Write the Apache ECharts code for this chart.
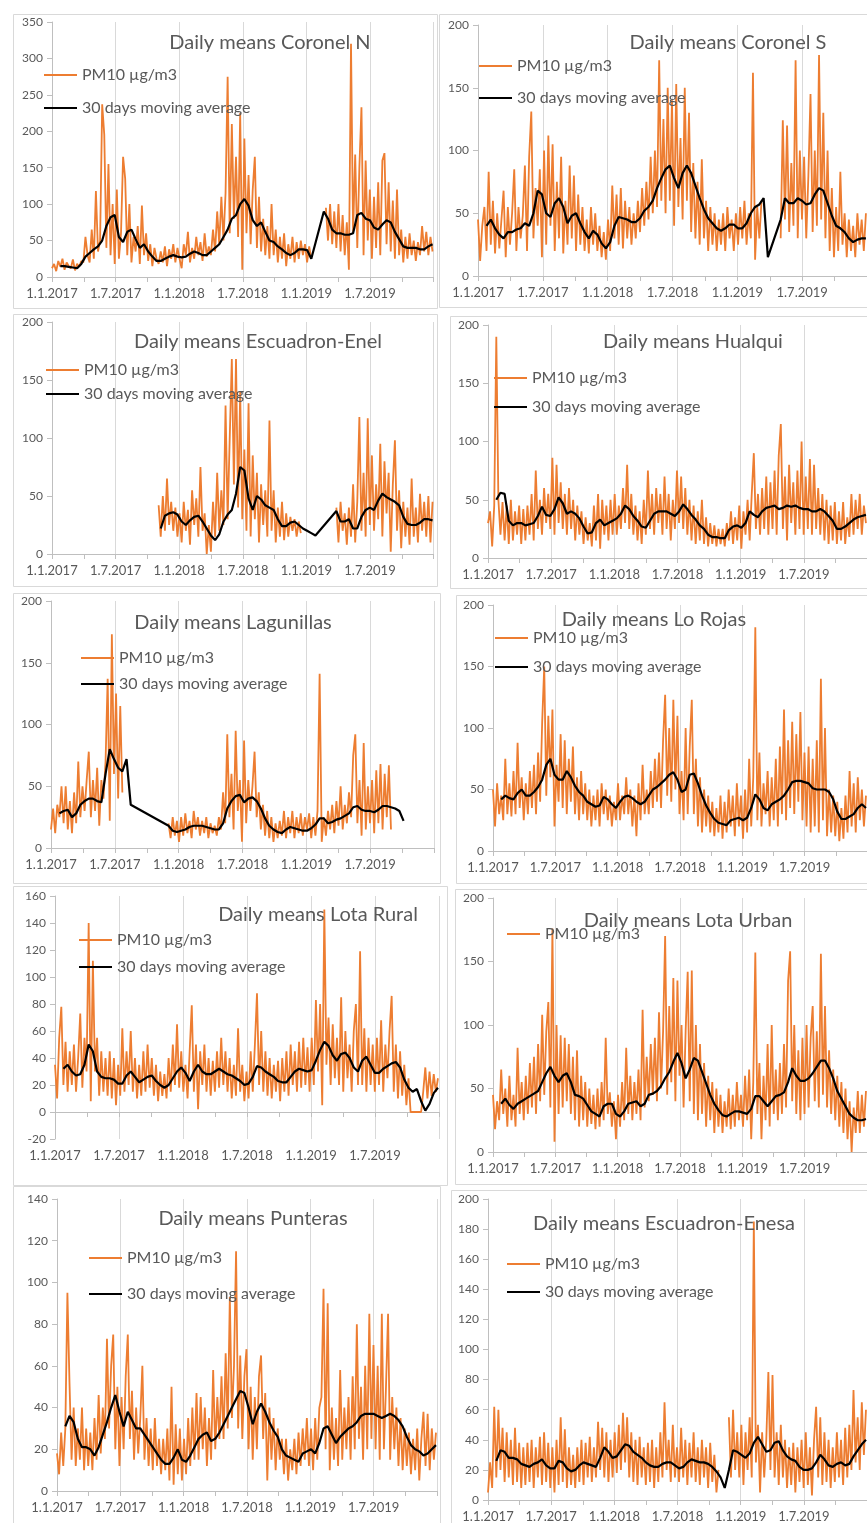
<!DOCTYPE html>
<html><head><meta charset="utf-8">
<script src="https://cdn.jsdelivr.net/npm/echarts@6/dist/echarts.min.js"></script>
<style>html,body{margin:0;padding:0;background:#fff;overflow:hidden}#c{width:867px;height:1523px}</style>
</head><body><div id="c"></div>
<script>
// ---------- tick labels / names ----------
const xTickLabels = ['1.1.2017','1.7.2017','1.1.2018','1.7.2018','1.1.2019','1.7.2019',''];
const seriesNames = ['PM10 µg/m3','30 days moving average'];
const stationTitles = ['Daily means Coronel N','Daily means Coronel S','Daily means Escuadron-Enel','Daily means Hualqui','Daily means Lagunillas','Daily means Lo Rojas','Daily means Lota Rural','Daily means Lota Urban','Daily means Punteras','Daily means Escuadron-Enesa'];
const PM_STEP_DAYS = 6;   // one PM10 reading every 6 days from 1.1.2017
const AVG_STEP_DAYS = 12; // one moving-average reading every 12 days
const yMins  = [0,0,0,0,0,0,-20,0,0,0];
const yMaxs  = [350,200,200,200,200,200,160,200,140,200];
const ySteps = [50,50,50,50,50,50,20,50,20,20];

// ---------- data ----------
const coronelN_pm10 = [
12,18,8,22,14,25,10,20,15,12,24,9,18,14,22,20,55,30,20,65,25,118,35,50,237,195,40,155,30,100,18,
120,25,60,165,135,30,100,20,55,35,70,18,98,30,60,22,45,15,40,25,18,35,20,42,15,38,25,45,20,40,
25,12,45,30,62,20,40,25,55,30,48,22,60,28,42,30,65,35,90,45,110,50,115,275,60,210,80,165,55,225,10,
190,60,140,45,120,165,40,110,35,80,30,70,25,100,30,65,20,55,25,60,15,45,25,55,20,48,25,50,30,45,
20,42,25,null,null,null,null,null,null,95,50,100,45,90,40,100,35,85,30,75,10,320,60,168,40,150,233,30,160,50,120,
25,110,40,130,30,160,170,45,130,35,105,25,120,30,65,20,55,25,60,30,50,22,48,30,70,35,62,30,55,35];
const coronelN_avg = [
null,null,15,15,14,13,12,18,28,33,38,42,50,70,82,85,
55,48,62,65,52,40,45,35,28,22,22,25,28,30,28,
27,28,32,35,33,30,30,35,40,45,55,65,80,85,100,
107,98,78,70,75,62,50,48,42,38,33,30,33,38,38,
37,25,null,null,90,80,65,60,60,58,58,60,85,88,80,78,
68,65,72,78,75,62,52,42,40,40,40,38,38,42,45];

const coronelS_pm10 = [
45,12,40,55,20,83,25,60,18,50,22,45,68,15,55,25,50,85,20,55,30,48,88,20,95,131,30,70,40,85,15,
100,25,112,40,105,20,75,30,95,18,60,25,88,30,80,20,65,25,55,20,45,18,55,25,50,20,40,15,35,13,
45,20,72,30,65,25,70,22,60,30,55,25,50,30,60,35,70,40,75,45,95,50,100,55,172,60,125,50,150,60,140,
40,153,55,110,45,150,60,130,35,90,30,75,25,93,30,60,20,55,25,50,20,45,25,50,20,55,30,45,20,50,
25,55,30,60,25,50,30,162,13,55,30,60,null,null,null,null,null,null,null,null,30,124,45,120,35,90,40,172,30,100,45,
95,30,80,145,35,100,40,176,45,130,30,100,20,70,15,55,20,83,25,50,15,45,20,40,15,50,25,45,20,50];
const coronelS_avg = [
null,null,40,45,38,33,30,35,35,37,38,42,40,50,68,65,
50,47,58,62,55,42,48,50,42,35,30,36,33,26,22,
27,40,47,46,45,43,43,46,52,55,60,70,78,85,88,
78,70,82,88,82,72,62,53,46,42,38,36,38,41,41,
38,38,42,50,55,57,62,15,null,null,45,62,58,58,62,60,
57,58,65,70,68,58,48,40,38,35,30,27,29,30,30];

const escEnel_pm10 = [
null,null,null,null,null,null,null,null,null,null,null,null,null,null,null,null,null,null,null,null,null,null,null,null,null,null,null,null,null,null,null,
null,null,null,null,null,null,null,null,null,null,null,null,null,null,null,null,null,null,null,null,42,15,50,20,65,25,45,20,40,15,
35,10,45,20,38,8,55,25,48,15,75,20,35,0,25,2,45,15,70,20,55,25,128,30,100,168,60,168,40,140,30,
90,20,130,15,85,30,70,10,60,25,55,15,115,20,55,10,40,15,45,12,35,15,32,20,30,15,28,18,null,null,
null,null,null,null,null,null,null,null,null,null,null,null,null,null,40,10,45,20,35,8,40,15,60,10,45,118,20,70,15,117,25,
85,20,60,30,95,15,80,35,70,2,60,98,20,55,5,45,15,40,8,65,15,40,10,52,20,45,15,50,10,45];
const escEnel_avg = [
null,null,null,null,null,null,null,null,null,null,null,null,null,null,null,null,
null,null,null,null,null,null,null,null,null,null,22,33,35,36,34,
28,25,29,32,33,28,22,16,12,17,28,34,38,52,75,
72,48,38,50,47,42,40,38,30,24,24,27,28,25,22,
20,18,16,null,null,null,null,37,28,28,30,22,22,32,38,40,
38,46,52,49,47,45,42,32,26,25,25,27,30,30,29];

const hualqui_pm10 = [
30,40,10,45,190,50,20,48,15,45,12,50,15,40,20,45,12,42,15,45,20,55,15,75,25,50,20,60,30,55,25,
86,20,80,30,65,25,55,20,60,25,50,15,45,20,40,12,35,15,30,10,45,15,55,8,50,20,45,15,50,20,
55,20,45,25,60,30,80,25,55,20,45,15,40,12,50,20,75,25,55,20,60,30,55,20,70,25,55,15,50,25,75,
30,70,25,60,20,50,15,45,12,40,15,50,12,35,10,30,12,28,10,25,12,25,10,30,15,40,12,35,15,45,
8,40,20,50,15,55,90,25,55,20,60,25,70,20,65,25,75,20,88,115,25,70,15,80,30,65,20,75,25,100,20,
70,25,85,20,80,25,60,20,55,15,50,12,45,15,48,12,40,15,48,12,35,18,55,20,50,25,55,20,45,30];
const hualqui_avg = [
null,null,50,56,55,32,28,30,30,28,29,30,36,44,37,36,
42,52,47,38,40,38,34,27,21,22,30,33,28,30,32,
34,38,45,42,36,32,27,26,32,38,40,40,40,38,36,
40,46,42,37,33,28,25,20,18,18,17,17,24,27,28,
26,30,40,37,35,40,43,44,45,42,43,45,44,45,43,42,
42,40,40,42,40,36,32,25,25,27,30,33,35,36,37];

const lagunillas_pm10 = [
15,32,12,35,25,50,20,50,15,38,12,45,20,70,25,50,30,55,78,25,55,30,65,18,55,40,70,137,22,173,60,
125,40,115,45,null,null,null,null,null,null,null,null,null,null,null,null,null,null,null,null,null,null,null,null,null,20,8,25,10,22,
5,25,10,28,12,22,8,30,15,25,10,22,12,25,8,20,12,18,10,25,15,45,20,92,25,60,15,95,30,55,5,
87,20,55,30,50,78,25,45,15,35,10,30,8,25,5,20,8,22,10,30,8,25,12,30,8,25,12,28,10,25,
15,28,8,25,10,30,141,5,25,10,30,15,35,12,38,18,50,15,35,20,45,25,75,92,20,55,10,85,15,50,20,
55,12,63,20,68,15,60,25,67,15,null,null,null,null,null,null,null,null,null,null,null,null,null,null,null,null,null,null,null,null];
const lagunillas_avg = [
null,null,28,30,31,25,28,35,38,40,40,38,37,60,80,72,
65,62,72,35,null,null,null,null,null,null,null,null,18,14,13,
14,15,17,18,18,18,17,16,15,15,20,32,38,42,43,
37,40,41,38,32,24,18,15,13,12,15,17,16,15,14,
14,16,19,24,24,20,21,23,24,26,28,33,34,31,30,30,
29,31,34,34,33,32,30,22,null,null,null,null,null,null,null];

const loRojas_pm10 = [
50,20,55,30,45,25,75,30,55,28,65,30,88,35,60,25,55,30,65,35,70,30,80,40,105,150,45,110,60,115,20,
70,40,95,35,90,30,75,40,85,30,60,25,65,30,55,25,50,20,45,25,50,20,55,30,50,25,45,20,40,25,
55,25,45,30,60,30,50,20,45,12,55,25,70,30,50,30,65,35,75,40,80,35,90,127,45,100,40,123,50,110,30,
65,25,100,30,85,123,30,75,20,60,15,50,20,45,15,40,12,35,15,45,10,40,15,50,20,45,12,55,20,45,
10,50,15,75,20,60,182,25,80,20,55,30,65,20,60,25,75,20,85,30,115,25,90,35,105,30,95,40,113,25,80,
20,85,15,75,20,90,15,140,25,100,12,50,15,45,12,40,8,35,10,45,15,65,20,55,15,60,25,50,20,45];
const loRojas_avg = [
null,null,42,45,43,42,47,50,45,45,48,52,58,70,75,62,
58,58,65,60,53,48,45,40,38,36,37,44,42,38,35,
40,44,45,43,40,38,40,45,50,52,55,58,62,64,58,
48,50,62,63,55,45,37,31,26,23,22,21,25,26,27,
25,27,35,46,42,35,33,38,40,42,45,50,56,57,57,56,
55,51,50,50,50,48,42,32,26,26,28,30,35,38,35];

const lotaRural_pm10 = [
35,10,55,78,20,52,15,45,20,50,15,40,73,18,55,30,140,8,112,30,55,12,45,15,40,12,45,10,40,5,35,
12,62,15,45,20,60,15,40,10,35,12,45,15,50,18,40,12,35,8,30,12,28,10,40,15,50,20,65,18,45,
15,35,10,45,79,15,50,2,45,20,50,15,40,12,38,15,45,18,55,20,45,15,40,10,35,12,62,15,35,8,30,
10,45,15,50,88,20,60,15,45,12,40,10,35,15,38,8,40,15,45,12,50,20,45,15,52,18,55,20,48,15,
55,20,83,30,80,5,150,35,70,20,65,25,55,20,85,15,60,25,50,15,60,80,20,119,20,62,15,55,20,50,15,
55,20,68,15,50,25,60,86,15,50,10,45,12,35,5,25,0,0,0,0,0,0,15,33,10,30,12,28,15,25];
const lotaRural_avg = [
null,null,32,35,30,27,28,35,50,45,30,26,25,25,24,21,
21,27,30,26,22,24,26,27,23,20,18,20,25,30,33,
29,23,30,35,30,28,28,30,32,30,28,27,25,23,20,
21,26,34,33,30,28,26,23,22,22,26,30,32,31,30,
31,38,46,52,49,42,38,43,44,40,33,30,38,41,35,29,
29,32,34,36,37,33,24,18,15,17,8,1,6,14,18];

const lotaUrban_pm10 = [
45,18,40,25,65,30,50,20,60,25,45,20,82,30,55,25,60,30,70,35,75,30,85,40,108,45,95,118,35,176,8,
100,30,92,35,90,40,85,30,75,25,80,20,60,25,55,20,50,22,45,18,50,20,55,25,90,30,47,20,40,10,
45,20,55,25,82,30,60,25,55,30,65,25,112,35,75,40,85,45,90,40,110,50,95,170,45,115,55,137,40,135,60,
100,35,95,142,40,143,30,100,25,85,30,70,20,60,25,55,15,50,20,45,15,40,20,50,18,45,20,55,25,45,
20,60,25,65,10,55,157,30,70,10,60,25,85,20,100,30,65,25,70,30,85,35,135,158,40,100,30,80,25,90,30,
100,35,90,115,40,95,35,156,45,115,35,80,30,65,25,60,20,55,15,50,10,40,0,35,15,48,15,45,20,48];
const lotaUrban_avg = [
null,null,38,42,37,34,38,40,42,44,46,48,55,62,67,60,
55,60,62,55,45,44,42,37,32,30,28,36,38,38,30,
28,32,38,39,40,36,38,45,46,48,52,58,63,71,78,
70,58,65,74,72,63,54,45,38,33,29,28,30,32,32,
31,30,34,44,44,40,36,40,44,45,47,55,66,60,56,56,
58,62,67,72,72,66,58,48,42,36,30,27,25,25,26];

const punteras_pm10 = [
18,8,28,12,30,95,52,15,40,12,30,15,40,10,30,12,28,10,35,15,46,18,40,25,73,30,60,75,20,50,12,
45,20,55,75,25,48,15,40,18,35,60,15,35,12,30,10,35,12,25,8,25,10,30,5,50,3,32,8,30,5,
25,8,35,12,40,15,47,15,45,20,40,12,35,15,58,20,45,25,55,25,66,30,93,35,60,115,30,65,25,55,68,
20,50,15,45,20,55,65,25,47,5,40,15,35,10,30,15,25,8,25,5,20,10,25,8,28,12,30,15,35,12,
30,10,35,15,40,45,97,20,90,10,40,15,35,12,58,15,40,20,45,15,55,20,80,25,50,15,60,20,85,25,70,
20,60,15,85,20,50,85,15,45,20,40,12,35,10,30,12,28,8,25,10,30,5,25,38,12,37,10,30,15,28];
const punteras_avg = [
null,null,31,36,33,25,21,21,20,17,21,27,33,40,46,38,
31,38,34,30,30,27,24,21,18,15,13,13,16,20,15,
14,17,21,25,27,28,24,25,28,32,36,40,44,48,47,
40,32,38,42,38,33,29,26,20,17,16,15,14,18,19,
20,18,23,30,31,27,23,26,28,30,31,33,36,37,37,37,
36,35,36,37,36,34,31,26,22,20,19,17,18,20,22];

const escEnesa_pm10 = [
5,25,8,62,15,60,20,48,12,45,15,40,10,48,12,38,8,35,10,38,12,40,8,35,15,42,10,45,12,38,8,
35,5,40,10,55,12,47,8,35,10,30,8,35,12,40,10,38,15,42,12,35,15,52,20,48,15,45,12,40,15,
45,18,50,20,58,25,55,15,45,12,40,10,42,15,35,10,38,12,40,8,35,12,45,15,65,20,40,12,50,15,35,
12,48,15,40,10,38,15,45,12,35,10,40,15,35,8,38,12,30,5,20,null,null,null,null,55,15,60,20,45,15,
50,10,45,20,55,15,185,25,50,5,45,15,40,85,20,83,15,45,10,50,15,40,8,35,10,38,5,35,12,40,8,
45,10,35,3,40,62,15,55,10,45,12,40,8,35,12,45,15,40,10,48,15,50,20,73,25,55,20,65,30,60];
const escEnesa_avg = [
null,null,26,33,32,28,28,27,24,23,22,24,25,27,23,21,
21,26,25,21,19,20,23,25,24,23,22,28,35,32,28,
29,33,37,36,32,30,28,25,23,22,22,24,25,25,23,
21,22,25,27,26,25,25,24,22,19,15,8,20,33,32,
30,28,31,38,42,37,32,33,38,39,33,29,27,26,22,20,
20,21,25,30,27,23,22,24,25,23,24,29,33,37,40];

const pmSeries  = [coronelN_pm10,coronelS_pm10,escEnel_pm10,hualqui_pm10,lagunillas_pm10,loRojas_pm10,lotaRural_pm10,lotaUrban_pm10,punteras_pm10,escEnesa_pm10];
const avgSeries = [coronelN_avg,coronelS_avg,escEnel_avg,hualqui_avg,lagunillas_avg,loRojas_avg,lotaRural_avg,lotaUrban_avg,punteras_avg,escEnesa_avg];

// ---------- layout (pixels) ----------
const layout = [
 {grid:[52,22,381.6,255],  box:[13,14,424,294],  title:[270,43],   leg:[43,75],   gap:33, legN:2},
 {grid:[478,25,391,251],   box:[439,14,440,293], title:[728,43],   leg:[478,66],  gap:32, legN:2},
 {grid:[52,322,381.6,232], box:[13,314,424,272], title:[258,342],  leg:[45,370],  gap:24, legN:2},
 {grid:[488,325,381,233],  box:[450,316,430,272],title:[693,342],  leg:[493,378], gap:29, legN:2},
 {grid:[51,601,383,247],   box:[13,593,427,290], title:[233,623],  leg:[80,658],  gap:26, legN:2},
 {grid:[493,605,379,246],  box:[456,595,420,288],title:[654,620],  leg:[494,638], gap:29, legN:2},
 {grid:[55,896,384,243],   box:[13,886,434,299], title:[318,915],  leg:[78,940],  gap:27, legN:2},
 {grid:[493,898,379,254],  box:[455,889,420,295],title:[688,921],  leg:[506,934], gap:28, legN:1},
 {grid:[57,1199,380,292],  box:[13,1186,427,400],title:[253,1219], leg:[88,1258], gap:36, legN:2},
 {grid:[488,1199,385,302], box:[451,1190,420,400],title:[664,1224],leg:[506,1264],gap:28, legN:2}
];

const FONT = 'Lato, "Liberation Sans", sans-serif';
const GRAY = '#595959';
const LEG_FONT = 16;
const option = {animation:false, backgroundColor:'#fff', grid:[], xAxis:[], yAxis:[], series:[], legend:[], graphic:[]};

layout.forEach((L,k)=>{
  option.grid.push({left:L.grid[0], top:L.grid[1], width:L.grid[2], height:L.grid[3], containLabel:false});
  option.xAxis.push({
    type:'value', gridIndex:k, min:0, max:1095, interval:182.5,
    axisLine:{onZero:true, lineStyle:{color:'#bfbfbf', width:1}},
    axisTick:{show:true, length:5, lineStyle:{color:'#bfbfbf'}},
    minorTick:{show:true, splitNumber:2, length:5, lineStyle:{color:'#bfbfbf'}},
    splitLine:{show:true, lineStyle:{color:'#d9d9d9', width:1}},
    axisLabel:{color:GRAY, fontSize:13, fontFamily:FONT, margin:10, showMaxLabel:false,
      formatter:v=>xTickLabels[Math.round(v/182.5)]||''}
  });
  option.yAxis.push({
    type:'value', gridIndex:k, min:yMins[k], max:yMaxs[k], interval:ySteps[k],
    axisLine:{show:true, lineStyle:{color:'#bfbfbf', width:1}},
    axisTick:{show:true, length:5, lineStyle:{color:'#bfbfbf'}},
    splitLine:{show:false},
    axisLabel:{color:GRAY, fontSize:12, fontFamily:FONT, margin:9}
  });
  option.series.push({
    type:'line', name:seriesNames[0], xAxisIndex:k, yAxisIndex:k, symbol:'none', showSymbol:false,
    data:pmSeries[k].map((v,i)=>[i*PM_STEP_DAYS, v===null?'-':v]),
    lineStyle:{color:'#ED7D31', width:1.8}, itemStyle:{color:'#ED7D31'}, connectNulls:false, z:2
  });
  option.series.push({
    type:'line', name:seriesNames[1], xAxisIndex:k, yAxisIndex:k, symbol:'none', showSymbol:false,
    data:avgSeries[k].map((v,i)=>[i*AVG_STEP_DAYS, v===null?'-':v]),
    lineStyle:{color:'#000', width:2.2}, itemStyle:{color:'#000'}, connectNulls:true, z:3
  });
  option.legend.push({
    left:L.leg[0], top:L.leg[1]-8, orient:'vertical', padding:0,
    itemWidth:33, itemHeight:14, itemGap:L.gap-16, selectedMode:false,
    itemStyle:{opacity:0, color:'rgba(0,0,0,0)', borderColor:'rgba(0,0,0,0)', borderWidth:0},
    data:seriesNames.slice(0,L.legN),
    textStyle:{color:GRAY, fontSize:LEG_FONT, fontFamily:FONT}
  });
  option.graphic.push({type:'rect', silent:true, z:-10,
    shape:{x:L.box[0]+0.5, y:L.box[1]+0.5, width:L.box[2], height:L.box[3]},
    style:{fill:'none', stroke:'#d9d9d9', lineWidth:1}});
  option.graphic.push({type:'text', silent:true, z:100, x:L.title[0], y:L.title[1],
    style:{text:stationTitles[k], fill:GRAY, fontSize:20, fontFamily:FONT, align:'center', verticalAlign:'middle'}});
});

const chart = echarts.init(document.getElementById('c'), null, {renderer:'canvas'});
chart.setOption(option);
</script>
</body></html>
